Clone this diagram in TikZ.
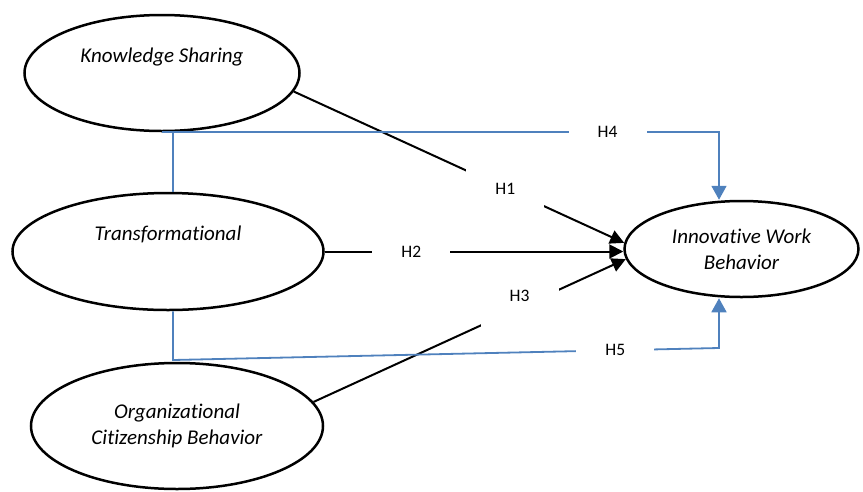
\documentclass[tikz,border=0pt]{standalone}
\usepackage{fontspec}
\setmainfont{Carlito}[Ligatures=NoCommon]
\usepackage{tikz}
\usetikzlibrary{shapes.geometric,arrows.meta,positioning}
\definecolor{linkblue}{RGB}{79,129,189}

\begin{document}
\begin{tikzpicture}[
    x=1pt, y=-1pt,
    construct/.style={ellipse, draw, line width=2.5pt, inner sep=0pt, align=center, font=\fontsize{21}{26}\selectfont\itshape},
    hyp/.style={fill=white, inner sep=0pt, minimum width=78pt, minimum height=40pt, font=\fontsize{17.5}{21}\selectfont},
    arrow/.style={-{Triangle[length=14pt,width=14pt]}, line width=2pt},
    rel/.style={draw=linkblue, line width=1.8pt},
    relarrow/.style={rel, -{Triangle[length=14pt,width=15pt,fill=linkblue]}}
]
\useasboundingbox (0,0) rectangle (863,491);

\node[construct, minimum width=275pt, minimum height=116pt] (ks) at (162,73) {Knowledge Sharing\\[10pt]\mbox{}};
\node[construct, minimum width=311pt, minimum height=117pt] (tl) at (168,251.5) {Transformational\\[10pt]\mbox{}};
\node[construct, minimum width=292pt, minimum height=126pt] (ocb) at (177,426) {Organizational\\Citizenship Behavior};
\node[construct, minimum width=234pt, minimum height=96pt] (iwb) at (741.5,249) {Innovative Work\\Behavior};

% bends of the blue links
\coordinate (tltop) at ([xshift=5pt]tl.north);
\coordinate (tlfoot) at ([xshift=5pt]tl.south);
\coordinate (iwbtop) at ([xshift=-22.5pt]iwb.north);
\coordinate (iwbfoot) at ([xshift=-22.5pt]iwb.south);
\coordinate (h5bend) at (173,360);
\coordinate (h5end) at (719,348);

\draw[arrow] (ks.-8) -- node[hyp, pos=0.64] {H1} (iwb.177);
\draw[arrow] (tl.east) -- node[hyp, pos=0.29] {H2} (tl.east -| iwb.west);
\draw[arrow] (ocb.10) -- node[hyp, pos=0.66, yshift=12pt, minimum height=70pt] {H3} (iwb.185);

\draw[rel] (tltop) -- (tltop |- ks.south);
\draw[relarrow] (ks.south) -| node[hyp, pos=0.4] {H4} (iwbtop);
\draw[relarrow] (tlfoot) -- (h5bend) -- node[hyp, pos=0.81] {H5} (h5end) -- (iwbfoot);
\end{tikzpicture}
\end{document}
